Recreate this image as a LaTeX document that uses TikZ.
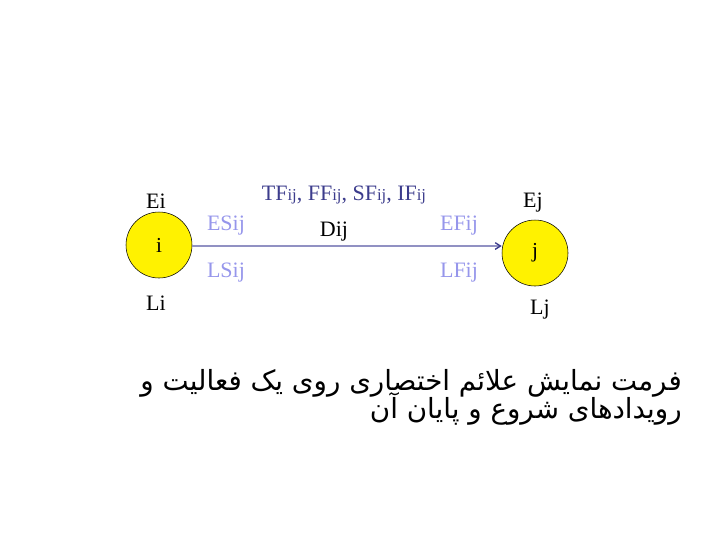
\documentclass[tikz,border=0pt]{standalone}
\usepackage{fontspec}
\setmainfont{Liberation Serif}
\newfontfamily\arabicfont[Script=Arabic]{DejaVu Sans}
\TeXXeTstate=1
\usetikzlibrary{arrows.meta}
\definecolor{lblue}{RGB}{150,150,235}
\definecolor{dblue}{RGB}{60,60,140}
\definecolor{linec}{RGB}{145,145,195}
\newcommand{\sbij}{\raisebox{-0.5pt}{\fontsize{12.5}{13}\selectfont ij}}
\begin{document}
\begin{tikzpicture}[x=0.75pt,y=-0.75pt,
  event/.style={circle,draw=black,fill=yellow,minimum size=49.5pt,inner sep=0pt,font=\fontsize{16}{18}\selectfont},
  lbl/.style={inner sep=0pt,font=\fontsize{16.5}{18}\selectfont},
  llbl/.style={lbl,text=lblue},
  fa/.style={inner sep=0pt,anchor=base east,font=\arabicfont\fontsize{20.8}{24}\selectfont}]
\useasboundingbox (0,0) rectangle (720,540);
\node[event] (i) at (159,245) {i};
\node[event] (j) at (535,253) {j};
\node[lbl] (ei) at (156,201) {Ei};
\node[lbl] (li) at (156,303) {Li};
\node[lbl] (ej) at (533,203) {Ej};
\node[lbl] (lj) at (540,310) {Lj};
\node[llbl] (es) at (226,226) {ESij};
\node[llbl] (ls) at (226,273) {LSij};
\node[llbl] (ef) at (459,226) {EFij};
\node[llbl] (lf) at (459,273) {LFij};
\node[lbl] (d) at (334,232) {Dij};
\node[lbl,text=dblue] (tf) at (344,195) {TF\sbij, FF\sbij, SF\sbij, IF\sbij};
\draw[linec,line width=1pt,-{Straight Barb[length=4pt,width=5pt,color=dblue]}] (i.east |- 0,246) -- (j.west |- 0,246);
\node[fa] (t1) at (682,390) {\beginR فرمت نمایش علائم اختصاری روی یک فعالیت و\endR};
\node[fa] (t2) at (682,418) {\beginR رویدادهای شروع و پایان آن\endR};
\end{tikzpicture}
\end{document}
